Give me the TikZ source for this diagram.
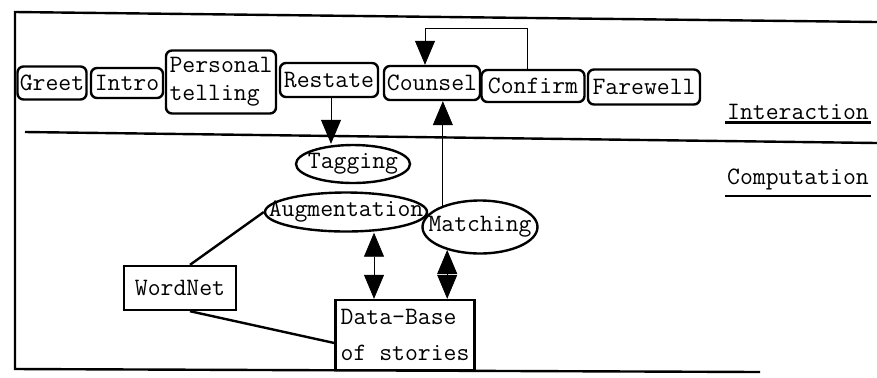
\documentclass[tikz,border=0pt]{standalone}
\usetikzlibrary{arrows.meta,shapes.geometric}
\tikzset{
  stage/.style={draw, very thick, rounded corners=3pt, inner sep=0pt, align=left,
    font=\ttfamily\fontsize{12.5}{14}\selectfont},
  task/.style={draw, very thick, ellipse, fill=white, inner xsep=-12pt, inner ysep=0pt,
    font=\ttfamily\fontsize{12.5}{14}\selectfont},
  store/.style={draw, very thick, inner sep=0pt, align=left,
    font=\ttfamily\fontsize{12.5}{18}\selectfont},
  layer/.style={inner sep=1pt, font=\ttfamily\fontsize{12.5}{14}\selectfont},
  flow/.style={-{Triangle[width=10pt,length=12pt]}},
  both/.style={{Triangle[width=10pt,length=12pt]}-{Triangle[width=10pt,length=12pt]}},
}
\begin{document}
\begin{tikzpicture}[x=0.5pt, y=-0.5pt]
    \useasboundingbox (0,0) rectangle (877,377);
    \draw[line width=1.2pt] (877,22) -- (15,12) -- (15,369) -- (760,372);
    \draw[line width=1.2pt] (25,132) -- (877,143);
    \node[stage, minimum width=34.5pt, minimum height=16.5pt] (Greet) at (52,83) {Greet};
    \node[stage, minimum width=36pt, minimum height=15pt] (Intro) at (127,83) {Intro};
    \node[stage, minimum width=55pt, minimum height=31.5pt] (Personal) at (221,82) {Personal\\telling};
    \node[stage, minimum width=49pt, minimum height=17pt] (Restate) at (329,80) {Restate};
    \node[stage, minimum width=48pt, minimum height=17pt] (Counsel) at (432,83) {Counsel};
    \node[stage, minimum width=51.5pt, minimum height=16pt] (Confirm) at (533,86) {Confirm};
    \node[stage, minimum width=56pt, minimum height=17.5pt] (Farewell) at (644,87) {Farewell};
    \node[layer] (Interaction) at (798,112) {Interaction};
    \node[layer] (Computation) at (798,179) {Computation};
    \draw[line width=1.4pt] (Interaction.south west) -- (Interaction.south east);
    \draw[line width=1.4pt] ([yshift=-2pt]Computation.south west) -- ([yshift=-2pt]Computation.south east);
    \node[task, minimum width=57pt, minimum height=19pt] (Tagging) at (353,164) {Tagging};
    \node[task, minimum width=81pt, minimum height=19.5pt] (Augmentation) at (346,212) {Augmentation};
    \node[task, minimum width=57.5pt, minimum height=26.5pt] (Matching) at (480,227) {Matching};
    \node[store, minimum width=56pt, minimum height=22pt] (WordNet) at (180,288) {WordNet};
    \node[store, minimum width=69.5pt, minimum height=35pt] (Database) at (405,335) {Data-Base\\of stories};
    % connections
    \coordinate (loop) at (425,28);
    \draw[flow] ([xshift=-3pt]Confirm.north) |- (loop) -- (loop |- Counsel.north);
    \draw[flow] ([xshift=1pt]Restate.south) -- ([xshift=1pt]Restate.south |- Tagging.north);
    \draw[flow] (Matching.150) -- (Matching.150 |- Counsel.south);
    \draw[both] ([xshift=-15.5pt]Database.north) -- ([xshift=-15.5pt]Database.north |- Augmentation.south);
    \draw[both] (Matching.215) -- (Matching.215 |- Database.north);
    \draw[line width=1.2pt] ([xshift=5pt]WordNet.north) -- (Augmentation.west);
    \draw[line width=1.2pt] ([xshift=5pt]WordNet.south) -- ([yshift=-4pt]Database.west);
  \end{tikzpicture}
\end{document}
